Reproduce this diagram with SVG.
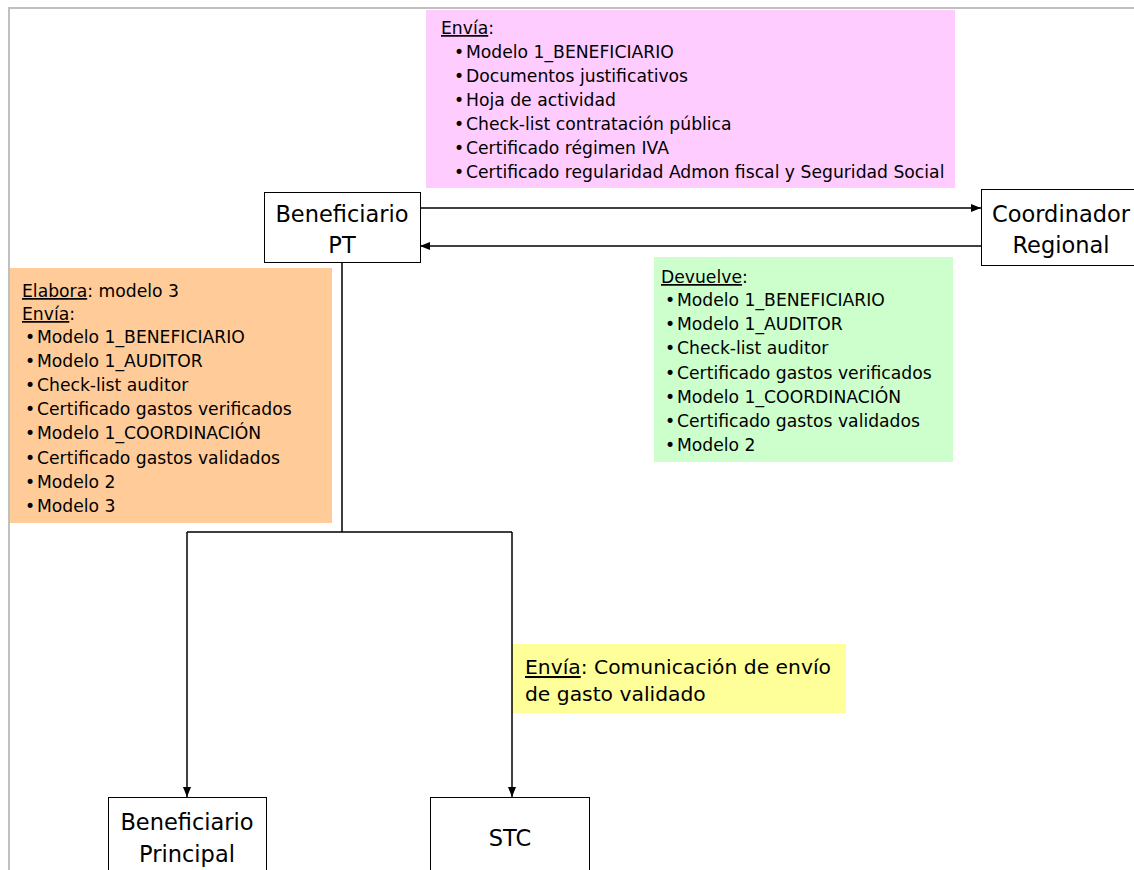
<svg xmlns="http://www.w3.org/2000/svg" width="1134" height="870" viewBox="0 0 1134 870">
  <defs>
    <marker id="arrow" viewBox="0 0 10 10" refX="10" refY="5" markerWidth="10" markerHeight="10" markerUnits="userSpaceOnUse" orient="auto">
      <path d="M0,1 L10,5 L0,9 z" fill="#000"/>
    </marker>
    <style>
      text { font-family: "DejaVu Sans", Verdana, sans-serif; fill: #000; }
      .list { font-size: 17.2px; }
      .note { font-size: 20.3px; }
      .node { font-size: 22.5px; text-anchor: middle; }
      .box { fill: #fff; stroke: #000; stroke-width: 1; }
      .wire { fill: none; stroke: #000; stroke-width: 1.5; }
      .u { text-decoration: underline; }
    </style>
  </defs>

  <rect width="1134" height="870" fill="#fff"/>
  <!-- page frame -->
  <path d="M9,870 V8 H1134" fill="none" stroke="#c0c0c0" stroke-width="2"/>

  <!-- document list boxes -->
  <g id="nota-envia-pt">
    <rect x="426" y="10" width="529" height="178" fill="#ffccff"/>
    <text class="list">
      <tspan x="441" y="34"><tspan class="u">Envía</tspan>:</tspan>
      <tspan x="454" y="58">•</tspan><tspan x="466" y="58">Modelo 1_BENEFICIARIO</tspan>
      <tspan x="454" y="82">•</tspan><tspan x="466" y="82">Documentos justificativos</tspan>
      <tspan x="454" y="106">•</tspan><tspan x="466" y="106">Hoja de actividad</tspan>
      <tspan x="454" y="130">•</tspan><tspan x="466" y="130">Check-list contratación pública</tspan>
      <tspan x="454" y="154">•</tspan><tspan x="466" y="154">Certificado régimen IVA</tspan>
      <tspan x="454" y="178">•</tspan><tspan x="466" y="178">Certificado regularidad Admon fiscal y Seguridad Social</tspan>
    </text>
  </g>

  <g id="nota-elabora">
    <rect x="10" y="268" width="322" height="255" fill="#ffcc99"/>
    <text class="list">
      <tspan x="22" y="297"><tspan class="u">Elabora</tspan>: modelo 3</tspan>
      <tspan x="22" y="320"><tspan class="u">Envía</tspan>:</tspan>
      <tspan x="25" y="343">•</tspan><tspan x="37" y="343">Modelo 1_BENEFICIARIO</tspan>
      <tspan x="25" y="367">•</tspan><tspan x="37" y="367">Modelo 1_AUDITOR</tspan>
      <tspan x="25" y="391">•</tspan><tspan x="37" y="391">Check-list auditor</tspan>
      <tspan x="25" y="415">•</tspan><tspan x="37" y="415">Certificado gastos verificados</tspan>
      <tspan x="25" y="439">•</tspan><tspan x="37" y="439">Modelo 1_COORDINACIÓN</tspan>
      <tspan x="25" y="464">•</tspan><tspan x="37" y="464">Certificado gastos validados</tspan>
      <tspan x="25" y="488">•</tspan><tspan x="37" y="488">Modelo 2</tspan>
      <tspan x="25" y="512">•</tspan><tspan x="37" y="512">Modelo 3</tspan>
    </text>
  </g>

  <g id="nota-devuelve">
    <rect x="654" y="257" width="299" height="205" fill="#ccffcc"/>
    <text class="list">
      <tspan x="661" y="283"><tspan class="u">Devuelve</tspan>:</tspan>
      <tspan x="665" y="306">•</tspan><tspan x="677" y="306">Modelo 1_BENEFICIARIO</tspan>
      <tspan x="665" y="330">•</tspan><tspan x="677" y="330">Modelo 1_AUDITOR</tspan>
      <tspan x="665" y="354">•</tspan><tspan x="677" y="354">Check-list auditor</tspan>
      <tspan x="665" y="379">•</tspan><tspan x="677" y="379">Certificado gastos verificados</tspan>
      <tspan x="665" y="403">•</tspan><tspan x="677" y="403">Modelo 1_COORDINACIÓN</tspan>
      <tspan x="665" y="427">•</tspan><tspan x="677" y="427">Certificado gastos validados</tspan>
      <tspan x="665" y="451">•</tspan><tspan x="677" y="451">Modelo 2</tspan>
    </text>
  </g>

  <g id="nota-stc">
    <rect x="512" y="644" width="334" height="69" fill="#ffff99"/>
    <text class="note">
      <tspan x="525" y="674"><tspan class="u">Envía</tspan>: Comunicación de envío</tspan>
      <tspan x="525" y="701">de gasto validado</tspan>
    </text>
  </g>

  <!-- connectors -->
  <g id="connectors">
    <line class="wire" x1="420" y1="208" x2="981" y2="208" marker-end="url(#arrow)"/>
    <line class="wire" x1="981" y1="246" x2="420" y2="246" marker-end="url(#arrow)"/>
    <path class="wire" d="M342,262 V532 M187,532 H512"/>
    <line class="wire" x1="187" y1="532" x2="187" y2="797" marker-end="url(#arrow)"/>
    <line class="wire" x1="512" y1="532" x2="512" y2="797" marker-end="url(#arrow)"/>
  </g>

  <!-- nodes -->
  <g id="beneficiario-pt">
    <rect class="box" x="264.5" y="192.5" width="156" height="70"/>
    <text class="node"><tspan x="342" y="222">Beneficiario</tspan><tspan x="342" y="253">PT</tspan></text>
  </g>

  <g id="coordinador-regional">
    <rect class="box" x="981.5" y="189.5" width="160" height="76"/>
    <text class="node"><tspan x="1061" y="222">Coordinador</tspan><tspan x="1061" y="253">Regional</tspan></text>
  </g>

  <g id="beneficiario-principal">
    <rect class="box" x="108.5" y="797.5" width="158" height="80"/>
    <text class="node"><tspan x="187" y="830">Beneficiario</tspan><tspan x="187" y="862">Principal</tspan></text>
  </g>

  <g id="stc">
    <rect class="box" x="430.5" y="797.5" width="159" height="80"/>
    <text class="node" x="510" y="846">STC</text>
  </g>
</svg>
